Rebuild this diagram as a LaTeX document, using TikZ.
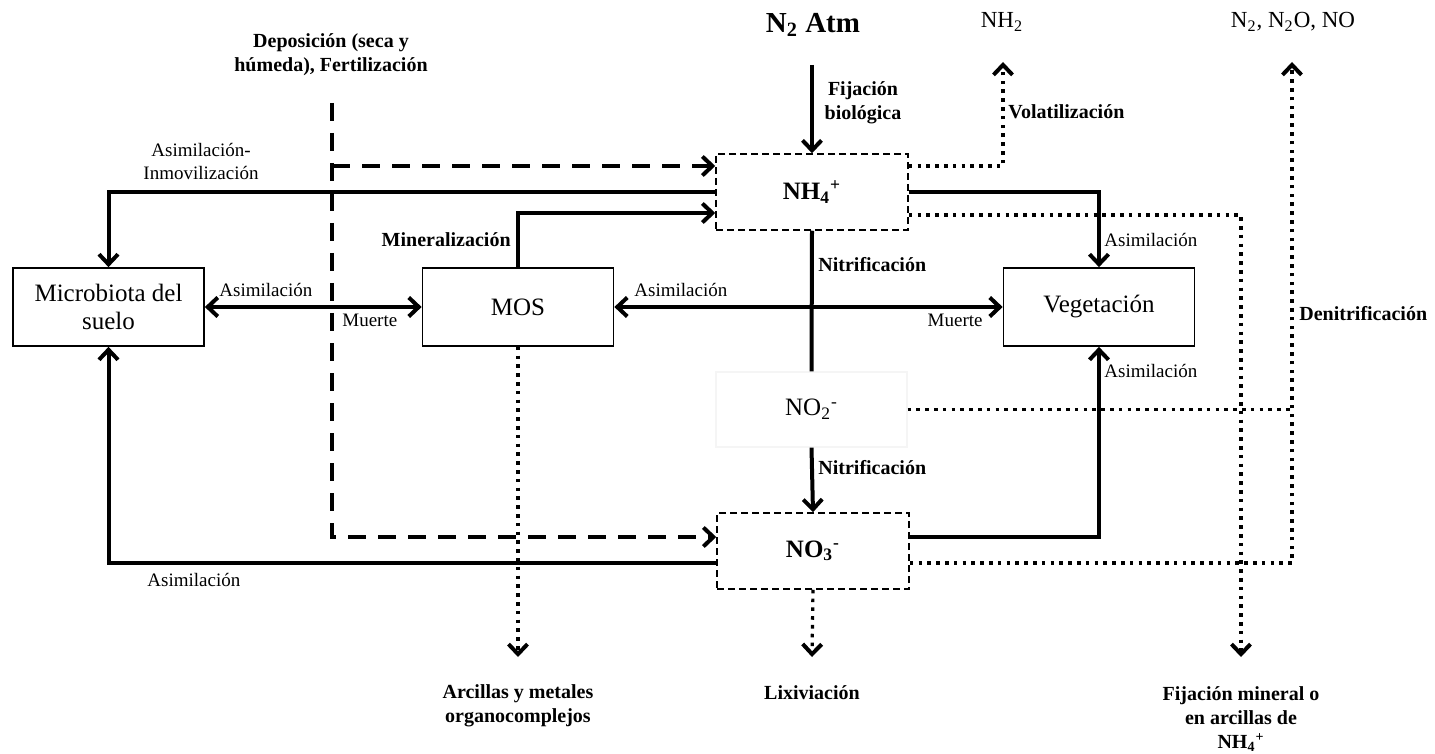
\documentclass[tikz,border=0pt]{standalone}
\usepackage{fontspec}
\setmainfont{Liberation Serif}
\usetikzlibrary{arrows.meta,calc}

\begin{document}
\begin{tikzpicture}[x=0.5pt,y=-0.5pt,
  >={Straight Barb[length=5pt,width=9.5pt,line width=2pt]},
  pool/.style={draw,line width=0.85pt,minimum width=95.5pt,minimum height=39pt,
    inner sep=0pt,align=center,font=\fontsize{12.5}{14}\selectfont},
  ionbox/.style={draw,line width=0.75pt,dash pattern=on 3.5pt off 2pt,
    minimum width=96pt,minimum height=38pt,inner sep=0pt,
    font=\bfseries\fontsize{12.5}{14}\selectfont},
  faintbox/.style={draw=black!4,line width=0.6pt,minimum width=95.5pt,
    minimum height=37.5pt,inner sep=0pt,font=\fontsize{12.5}{14}\selectfont},
  flow/.style={line width=2pt},
  input/.style={line width=2pt,dash pattern=on 9pt off 6pt},
  loss/.style={line width=1.6pt,dash pattern=on 1.8pt off 2.6pt},
  lab/.style={inner sep=0pt,font=\fontsize{9.5}{11.5}\selectfont},
  blab/.style={inner sep=0pt,font=\bfseries\fontsize{10}{12}\selectfont,align=center},
  top/.style={inner sep=0pt,font=\fontsize{11.5}{13}\selectfont}
]
\useasboundingbox (0,0) rectangle (1435,754);

% pools
\node[pool] (mic) at (108.5,307) {Microbiota del\\suelo};
\node[pool] (mos) at (518,307) {MOS};
\node[pool] (veg) at (1099,307) {Vegetación};
\node[ionbox] (nh4) at (812,192) {NH\textsubscript{4}\textsuperscript{+}};
\node[faintbox] (no2) at (811.5,409.5) {NO\textsubscript{2}\textsuperscript{-}};
\node[ionbox] (no3) at (813,551) {NO\textsubscript{3}\textsuperscript{-}};

% sources and sinks
\node[inner sep=0pt,font=\bfseries\fontsize{14.5}{16}\selectfont] (n2) at (813,25) {N\textsubscript{2} Atm};
\node[top] (nh2) at (1002,22) {NH\textsubscript{2}};
\node[top] (gas) at (1293,22) {N\textsubscript{2}, N\textsubscript{2}O, NO};
\node[blab] (dep) at (331,55) {Deposición (seca y\\húmeda), Fertilización};
\node[blab] (arc) at (518,706) {Arcillas y metales\\organocomplejos};
\node[blab] (lix) at (812,693) {Lixiviación};
\node[blab] (fix) at (1241,719) {Fijación mineral o\\en arcillas de\\NH\textsubscript{4}\textsuperscript{+}};

% tips and entry points
\coordinate (n2tail) at (812,65);
\coordinate (deptop) at (332,103);
\coordinate (voltip) at (1003,62);
\coordinate (gastip) at (1292,62);
\coordinate (arctip) at (518,657);
\coordinate (lixtip) at (812,657);
\coordinate (fixtip) at (1241,657);
\coordinate (nh4dep) at ([yshift=13pt]nh4.west);
\coordinate (nh4min) at ([yshift=-10.5pt]nh4.west);
\coordinate (nh4vol) at ([yshift=13pt]nh4.east);
\coordinate (nh4fix) at ([yshift=-11.5pt]nh4.east);
\coordinate (no3dep) at ([yshift=7pt]no3.west);
\coordinate (no3mic) at ([yshift=-6pt]no3.west);
\coordinate (no3veg) at ([yshift=7pt]no3.east);
\coordinate (no3den) at ([yshift=-6pt]no3.east);

% inputs
\draw[flow,->] (n2tail) -- (nh4.north);
\draw[input,->] (deptop) |- (no3dep);
\draw[input,->] (deptop |- nh4dep) -- (nh4dep);

% transfers
\draw[flow,->] (nh4.west) -| (mic.north);
\draw[flow,->] (mos.north) |- (nh4min);
\draw[flow,->] (nh4.east) -| (veg.north);
\draw[flow] (nh4.south) -- (no2.north);
\draw[flow,->] (no2.south) -- (no3.north);
\draw[flow,<->] (mic.east) -- (mos.west);
\draw[flow,<->] (mos.east) -- (veg.west);
\draw[flow,->] (no3veg) -| (veg.south);
\draw[flow,->] (no3mic) -| (mic.south);

% losses
\draw[loss,->] (nh4vol) -| (voltip);
\draw[loss,->] (nh4fix) -| (fixtip);
\draw[loss,->] (mos.south) -- (arctip);
\draw[loss,->] (no3.south) -- (lixtip);
\draw[loss,->] (no3den) -| (gastip);
\draw[loss] (no2.east) -- (no2.east -| gastip);

% process labels
\node[blab] at (863,103) {Fijación\\biológica};
\node[blab,anchor=west] at (1008,112) {Volatilización};
\node[lab,align=center] at (201,161) {Asimilación-\\Inmovilización};
\node[blab,anchor=east] at (511,240) {Mineralización};
\node[lab,anchor=west] at (1104,240) {Asimilación};
\node[blab,anchor=west] at (818,265) {Nitrificación};
\node[lab,anchor=west] at (634,290) {Asimilación};
\node[lab,anchor=east] at (983,320) {Muerte};
\node[lab,anchor=west] at (219,290) {Asimilación};
\node[lab,anchor=west] at (342,320) {Muerte};
\node[blab,anchor=west] at (1299,314) {Denitrificación};
\node[lab,anchor=west] at (1104,371) {Asimilación};
\node[blab,anchor=west] at (818,468) {Nitrificación};
\node[lab,anchor=west] at (147,580) {Asimilación};
\end{tikzpicture}
\end{document}
